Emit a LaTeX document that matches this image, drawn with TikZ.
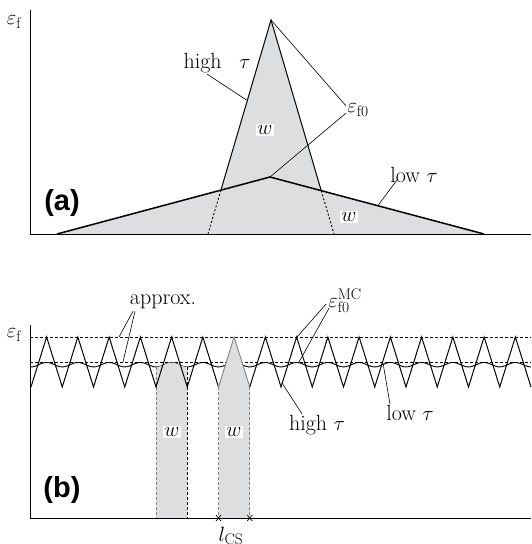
\documentclass[tikz,border=0pt]{standalone}
\usepackage{fontspec}
\newfontfamily\panelfont{Liberation Sans}
\usetikzlibrary{intersections}
\definecolor{wshade}{RGB}{221,222,224}

\begin{document}
\begin{tikzpicture}[x=1pt, y=-1pt,
  lbl/.style={font=\fontsize{22}{26}\selectfont, inner sep=1pt},
  wlbl/.style={font=\fontsize{22}{26}\selectfont, fill=white, inner sep=1.5pt},
  panel/.style={font=\panelfont\bfseries\fontsize{29}{33}\selectfont},
  leader/.style={line width=0.6pt},
  axis/.style={line width=0.9pt},
  guide/.style={line width=0.6pt, dash pattern=on 3pt off 2pt},
  zig/.style={line width=1pt, line join=miter},
]
\useasboundingbox (0,0) rectangle (531,544);

% (a) single crack, high and low tau
\coordinate (lowL) at (57,234);
\coordinate (lowTop) at (270,177);
\coordinate (lowR) at (484,234);
\coordinate (highTop) at (271,20);
\coordinate (highL) at (208,234);
\coordinate (highR) at (334,234);
\path[name path=lowA] (lowL) -- (lowTop) -- (lowR);
\path[name path=highA] (highL) -- (highTop) -- (highR);
\path[name intersections={of=lowA and highA, by={xl,xr}, sort by=lowA}];

\fill[wshade] (lowL) -- (xl) -- (highTop) -- (xr) -- (lowR) -- cycle;
\draw[line width=0.9pt, dash pattern=on 2pt off 2pt] (xl) -- (highL);
\draw[line width=0.9pt, dash pattern=on 2pt off 2pt] (xr) -- (highR);
\draw[line width=1pt] (xl) -- (highTop) -- (xr);
\draw[line width=1.5pt] (lowL) -- (lowTop) -- (lowR);
\draw[axis] (30,10) -- (30,234) -- (531,234);

\node[lbl] (epsA) at (14,22) {$\varepsilon_\mathrm{f}$};
\node[panel] (panA) at (62,203) {(a)};
\node[lbl] (highA) at (217,63) {high\hspace{0.8em}$\tau$};
\node[lbl] (epsfA) at (358,110) {$\varepsilon_\mathrm{f0}$};
\node[lbl] (lowA) at (414,175) {low $\tau$};
\node[wlbl] (wA1) at (265,130) {$w$};
\node[wlbl] (wA2) at (349,217) {$w$};

\coordinate (highPt) at (246.5,100);
\coordinate (lowPt) at (378,205.5);
\draw[leader] ([xshift=-10pt]highA.south) -- (highPt);
\draw[leader] ([yshift=4pt]epsfA.west) -- (highTop);
\draw[leader] ([yshift=-3pt]epsfA.west) -- (lowTop);
\draw[leader] ([xshift=8pt,yshift=4pt]lowA.south west) -- (lowPt);

% (b) multiple cracking
\draw[guide] (30,337) -- (531,337);
\draw[guide] (30,362) -- (531,362);
\draw[line width=0.9pt] plot[domain=30:531, samples=400, smooth]
  (\x, {364.7-2.2*cos(11.52*(\x-46.625))});

\fill[wshade] (156,518) -- plot[domain=156:187.25, samples=30, smooth]
  (\x, {364.7-2.2*cos(11.52*(\x-46.625))}) -- (187.25,518) -- cycle;
\fill[wshade] (218.5,518) -- (218.5,387) -- (234.125,337) -- (249.75,387)
  -- (249.75,518) -- cycle;
\draw[guide, black!50] (156,366.9) -- (156,518);
\draw[guide] (187.25,366.9) -- (187.25,518);
\draw[guide, black!50] (218.5,387) -- (218.5,518);
\draw[guide, black!50] (249.75,387) -- (249.75,518);

\draw[zig] (31,387) \foreach \i in {0,...,5} {
  -- ({31+31.25*\i+15.625},337) -- ({31+31.25*(\i+1)},387) };
\draw[zig, black!45] (218.5,387) -- (234.125,337) -- (249.75,387);
\draw[zig] (249.75,387) \foreach \i in {7,...,15} {
  -- ({31+31.25*\i+15.625},337) -- ({31+31.25*(\i+1)},387) };
\draw[axis] (30,325) -- (30,518) -- (531,518);

% crack spacing marks
\coordinate (csL) at (218.5,518);
\coordinate (csR) at (249.75,518);
\foreach \c in {csL,csR} {
  \draw[line width=0.7pt] ([xshift=-2.5pt,yshift=-3pt]\c) -- ([xshift=2.5pt,yshift=3pt]\c);
  \draw[line width=0.7pt] ([xshift=-2.5pt,yshift=3pt]\c) -- ([xshift=2.5pt,yshift=-3pt]\c);
}

\node[lbl] (epsB) at (14,335) {$\varepsilon_\mathrm{f}$};
\node[panel] (panB) at (62,490) {(b)};
\node[lbl] (apx) at (163,302) {approx.};
\node[lbl] (epsMC) at (345,301) {$\varepsilon_\mathrm{f0}^\mathrm{MC}$};
\node[lbl] (highB) at (317,425) {high\hspace{0.3em}$\tau$};
\node[lbl] (lowB) at (410,413) {low $\tau$};
\node[wlbl] (wB1) at (172,432) {$w$};
\node[wlbl] (wB2) at (234,432) {$w$};
\node[lbl, anchor=base] (lcs) at (231,541) {$l_\mathrm{CS}$};

\coordinate (apxTop) at (119,337);
\coordinate (apxMid) at (123,362);
\coordinate (mcTop) at (297,337);
\coordinate (mcMid) at (299,362);
\coordinate (hiPtB) at (282,383);
\coordinate (loPtB) at (383,363);
\draw[leader] ([xshift=-30pt,yshift=-1pt]apx.south) -- (apxTop);
\draw[leader] ([xshift=-28pt,yshift=-1pt]apx.south) -- (apxMid);
\draw[leader] ([xshift=-1pt,yshift=-3pt]epsMC.west) -- (mcTop);
\draw[leader] ([xshift=2pt,yshift=-7pt]epsMC.west) -- (mcMid);
\draw[leader] ([xshift=-15pt]highB.north) -- (hiPtB);
\draw[leader] ([xshift=-20pt]lowB.north) -- (loPtB);
\end{tikzpicture}
\end{document}
